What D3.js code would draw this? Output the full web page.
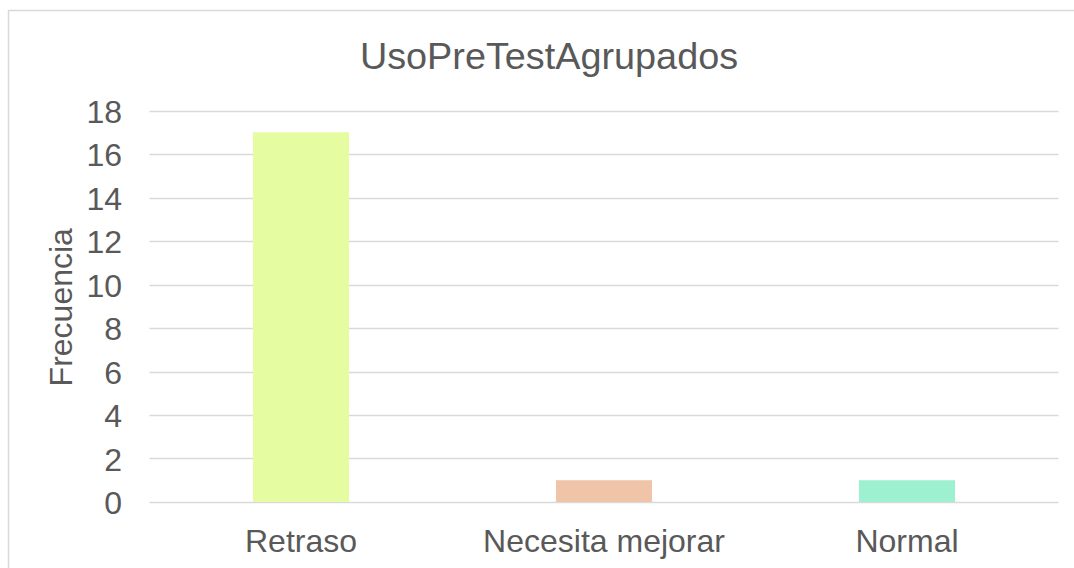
<!DOCTYPE html>
<html>
<head>
<meta charset="utf-8">
<script src="https://cdn.jsdelivr.net/npm/d3@7"></script>
<style>
  body { margin: 0; background: #fff; }
  text { font-family: "Liberation Sans", Arial, sans-serif; fill: #595959; }
</style>
</head>
<body>
<div id="chart"></div>
<script>
// data
var categories = ["Retraso", "Necesita mejorar", "Normal"];
var frecuencia = [17, 1, 1];
var barColors = ["#E6FCA1", "#F0C4A8", "#9DF0D0"];
var yTicks = [0, 2, 4, 6, 8, 10, 12, 14, 16, 18];
var chartTitle = "UsoPreTestAgrupados";
var yTitle = "Frecuencia";

var W = 1074, H = 568;
var margin = {top: 110.5, right: 15.5, bottom: 66, left: 149.5};

var svg = d3.select("#chart")
  .append("svg")
    .attr("width", W)
    .attr("height", H);

// chart frame (cut off at right and bottom)
svg.append("rect")
  .attr("x", 8.5).attr("y", 10.5)
  .attr("width", 1100).attr("height", 600)
  .attr("fill", "none")
  .attr("stroke", "#D9D9D9")
  .attr("stroke-width", 1.5);

var x = d3.scaleBand()
  .domain(categories)
  .range([margin.left, W - margin.right])
  .paddingInner(0.683)
  .paddingOuter(0.3415);

var y = d3.scaleLinear()
  .domain([0, 18])
  .range([H - margin.bottom, margin.top]);

// gridlines
svg.append("g")
  .selectAll("line")
  .data(yTicks)
  .enter().append("line")
    .attr("x1", margin.left)
    .attr("x2", W - margin.right)
    .attr("y1", function(d) { return Math.round(y(d)) + 0.5; })
    .attr("y2", function(d) { return Math.round(y(d)) + 0.5; })
    .attr("stroke", "#D9D9D9")
    .attr("stroke-width", 1.5);

// y axis labels
var yAxis = svg.append("g")
  .attr("transform", "translate(122,0)")
  .call(d3.axisLeft(y).tickValues(yTicks).tickSize(0).tickPadding(0));
yAxis.select(".domain").remove();
yAxis.selectAll("text")
  .attr("font-size", 32)
  .attr("font-family", "Liberation Sans, Arial, sans-serif")
  .attr("fill", "#595959")
  .attr("dy", "0.37em");

// bars
svg.append("g")
  .selectAll("rect")
  .data(frecuencia)
  .enter().append("rect")
    .attr("x", function(d, i) { return x(categories[i]); })
    .attr("width", x.bandwidth())
    .attr("y", function(d) { return y(d); })
    .attr("height", function(d) { return y(0) - y(d); })
    .attr("fill", function(d, i) { return barColors[i]; });

// x axis labels
var xAxis = svg.append("g")
  .attr("transform", "translate(0," + (H - margin.bottom) + ")")
  .call(d3.axisBottom(x).tickSize(0).tickPadding(0));
xAxis.select(".domain").remove();
xAxis.selectAll("text")
  .attr("font-size", 32)
  .attr("font-family", "Liberation Sans, Arial, sans-serif")
  .attr("fill", "#595959")
  .attr("dy", null)
  .attr("y", 50);

// title
svg.append("text")
  .attr("x", 549)
  .attr("y", 69)
  .attr("text-anchor", "middle")
  .attr("font-size", 37.8)
  .text(chartTitle);

// y axis title
svg.append("text")
  .attr("transform", "translate(72," + ((margin.top + H - margin.bottom) / 2 + 1) + ") rotate(-90)")
  .attr("text-anchor", "middle")
  .attr("font-size", 32)
  .text(yTitle);
</script>
</body>
</html>
